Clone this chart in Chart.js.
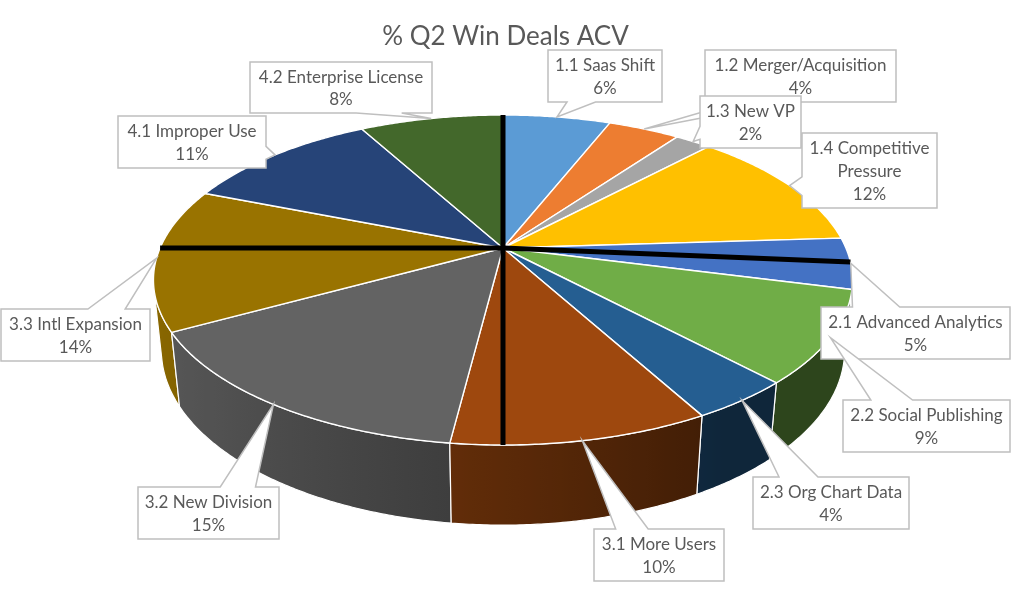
<!DOCTYPE html>
<html>
<head>
<meta charset="utf-8">
<script src="https://cdn.jsdelivr.net/npm/chart.js@4.4.1/dist/chart.umd.min.js"></script>
<style>
  html, body { margin: 0; padding: 0; background: #ffffff; }
  canvas { display: block; }
</style>
</head>
<body>
<canvas id="c" width="1011" height="591" style="width:1011px;height:591px"></canvas>
<script>
// ---------------- data ----------------
const titleText = '% Q2 Win Deals ACV';
const categories = [
  '1.1 Saas Shift', '1.2 Merger/Acquisition', '1.3 New VP', '1.4 Competitive Pressure',
  '2.1 Advanced Analytics', '2.2 Social Publishing', '2.3 Org Chart Data',
  '3.1 More Users', '3.2 New Division', '3.3 Intl Expansion',
  '4.1 Improper Use', '4.2 Enterprise License'
];
const shares = [6, 4, 2, 12, 5, 9, 4, 10, 15, 14, 11, 8];

// ---------------- styles / layout ----------------
const sliceColors = ['#5B9BD5', '#ED7D31', '#A5A5A5', '#FFC000', '#4472C4', '#70AD47',
                     '#255E91', '#9E480E', '#636363', '#997300', '#264478', '#43682B'];
// callout boxes: left, top, width, height
const calloutBoxes = [
  [548, 50, 114, 52], [705, 50, 191, 52], [700, 96, 101, 52], [802, 133, 135, 75],
  [821, 307, 189, 52], [843, 400, 167, 52], [753, 477, 156, 52], [594, 529, 130, 52],
  [138, 487, 141, 52], [1, 309, 149, 52], [118, 116, 148, 52], [250, 62, 182, 51]
];
const guideAngles = [0, 95, 180, 270]; // thick black guide rays (degrees, clockwise from back)
const FONT = 'Lato, "Open Sans", sans-serif';
const TEXT_COLOR = '#595959';

// perspective view of the pie disk (radius 1)
const VIEW = { cx: 503, cy: 248, fx: 1576, fy: 1608.6, dist: 4.596, elev: Math.asin(0.4537), depth: 0.227 };
const CE = Math.cos(VIEW.elev), SE = Math.sin(VIEW.elev);

function proj(x, y, z) {
  const dep = VIEW.dist - (y * CE + z * SE);
  const vc = -y * SE + z * CE;
  return [VIEW.cx + VIEW.fx * x / dep, VIEW.cy - VIEW.fy * vc / dep];
}
function rim(t, z, r) {
  r = (r === undefined) ? 1 : r;
  return proj(r * Math.sin(t), -r * Math.cos(t), z);
}
function hexToRgb(h) {
  const n = parseInt(h.slice(1), 16);
  return [(n >> 16) & 255, (n >> 8) & 255, n & 255];
}
function shade(hex, f) {
  const c = hexToRgb(hex).map(v => Math.max(0, Math.min(255, Math.round(v * f))));
  return 'rgb(' + c.join(',') + ')';
}
function wallFactor(t) {
  return Math.max(0.4, Math.min(0.95, 0.58 - 0.332 * Math.sin(t)));
}

function sliceAngles(chart) {
  const meta = chart.getDatasetMeta(0);
  return meta.data.map((arc, i) => {
    const p = arc.getProps(['startAngle', 'endAngle'], true);
    return { i, a0: p.startAngle + Math.PI / 2, a1: p.endAngle + Math.PI / 2 };
  });
}

const pie3d = {
  id: 'pie3d',
  beforeDatasetsDraw(chart) {
    const ctx = chart.ctx;
    const arcs = sliceAngles(chart);
    const tv = Math.acos(-1 / (VIEW.dist * CE));
    const v0 = tv, v1 = 2 * Math.PI - tv;
    ctx.save();
    ctx.lineJoin = 'round';
    // outer walls (front half)
    const walls = [];
    arcs.forEach(s => {
      const a = Math.max(s.a0, v0), b = Math.min(s.a1, v1);
      if (b - a > 1e-4) walls.push({ i: s.i, a, b });
    });
    walls.sort((p, q) => (-Math.cos((p.a + p.b) / 2)) - (-Math.cos((q.a + q.b) / 2)));
    walls.forEach(w => {
      const n = Math.max(2, Math.ceil((w.b - w.a) / (Math.PI / 360)));
      const top = [], bot = [], ts = [];
      for (let k = 0; k <= n; k++) {
        const t = w.a + (w.b - w.a) * k / n;
        ts.push(t); top.push(rim(t, 0)); bot.push(rim(t, -VIEW.depth));
      }
      ctx.beginPath();
      ctx.moveTo(top[0][0], top[0][1]);
      for (let k = 1; k <= n; k++) ctx.lineTo(top[k][0], top[k][1]);
      for (let k = n; k >= 0; k--) ctx.lineTo(bot[k][0], bot[k][1]);
      ctx.closePath();
      const xs = top.map(p => p[0]);
      const xL = Math.min(...xs), xR = Math.max(...xs);
      const base = sliceColors[w.i];
      if (xR - xL > 0.5) {
        const g = ctx.createLinearGradient(xL, 0, xR, 0);
        for (let k = 0; k <= n; k += Math.max(1, Math.floor(n / 24))) {
          const off = Math.max(0, Math.min(1, (top[k][0] - xL) / (xR - xL)));
          g.addColorStop(off, shade(base, wallFactor(ts[k])));
        }
        g.addColorStop(Math.max(0, Math.min(1, (top[n][0] - xL) / (xR - xL))), shade(base, wallFactor(ts[n])));
        ctx.fillStyle = g;
      } else {
        ctx.fillStyle = shade(base, wallFactor((w.a + w.b) / 2));
      }
      ctx.fill();
      ctx.strokeStyle = '#ffffff';
      ctx.lineWidth = 1.2;
      ctx.stroke();
    });
    // top faces
    const apex = proj(0, 0, 0);
    arcs.forEach(s => {
      const n = Math.max(2, Math.ceil((s.a1 - s.a0) / (Math.PI / 360)));
      ctx.beginPath();
      ctx.moveTo(apex[0], apex[1]);
      for (let k = 0; k <= n; k++) {
        const p = rim(s.a0 + (s.a1 - s.a0) * k / n, 0);
        ctx.lineTo(p[0], p[1]);
      }
      ctx.closePath();
      ctx.fillStyle = sliceColors[s.i];
      ctx.fill();
      ctx.strokeStyle = '#ffffff';
      ctx.lineWidth = 1.4;
      ctx.stroke();
    });
    ctx.restore();
    return false;
  }
};

function wrapText(ctx, text, maxW) {
  const words = text.split(' ');
  const lines = [];
  let cur = '';
  words.forEach(w => {
    const test = cur ? cur + ' ' + w : w;
    if (cur && ctx.measureText(test).width > maxW) { lines.push(cur); cur = w; }
    else cur = test;
  });
  if (cur) lines.push(cur);
  return lines;
}

const callouts = {
  id: 'callouts',
  afterDraw(chart) {
    const ctx = chart.ctx;
    const arcs = sliceAngles(chart);
    const total = shares.reduce((a, b) => a + b, 0);
    ctx.save();
    // guide rays
    const apex = proj(0, 0, 0);
    ctx.strokeStyle = '#000000';
    ctx.lineWidth = 5;
    ctx.lineCap = 'butt';
    guideAngles.forEach(d => {
      const p = rim(d * Math.PI / 180, 0);
      ctx.beginPath();
      ctx.moveTo(apex[0], apex[1]);
      ctx.lineTo(p[0], p[1]);
      ctx.stroke();
    });
    // callouts
    ctx.font = '17px ' + FONT;
    const lineH = 22.7;
    arcs.forEach(s => {
      const [l, t, w, h] = calloutBoxes[s.i];
      const r = l + w, b = t + h;
      const tip = rim((s.a0 + s.a1) / 2, 0);
      const hc = l + w / 2, vc = t + h / 2;
      const dxPos = tip[0] - hc, dyPos = tip[1] - vc;
      const dz = Math.abs(dyPos) - Math.abs(dxPos * h / w);
      const x1 = w * (dxPos > 0 ? 7 : 2) / 12, x2 = w * (dxPos > 0 ? 10 : 5) / 12;
      const y1 = h * (dyPos > 0 ? 7 : 2) / 12, y2 = h * (dyPos > 0 ? 10 : 5) / 12;
      const pts = [[l, t]];
      if (dz > 0 && dyPos < 0) pts.push([l + x1, t], tip, [l + x2, t]);
      pts.push([r, t]);
      if (dz <= 0 && dxPos > 0) pts.push([r, t + y1], tip, [r, t + y2]);
      pts.push([r, b]);
      if (dz > 0 && dyPos > 0) pts.push([l + x2, b], tip, [l + x1, b]);
      pts.push([l, b]);
      if (dz <= 0 && dxPos <= 0) pts.push([l, t + y2], tip, [l, t + y1]);
      ctx.beginPath();
      ctx.moveTo(pts[0][0], pts[0][1]);
      for (let k = 1; k < pts.length; k++) ctx.lineTo(pts[k][0], pts[k][1]);
      ctx.closePath();
      ctx.fillStyle = '#ffffff';
      ctx.fill();
      ctx.strokeStyle = '#BFBFBF';
      ctx.lineWidth = 1.5;
      ctx.lineJoin = 'miter';
      ctx.stroke();
      // text
      const lines = wrapText(ctx, categories[s.i], w - 2);
      lines.push(Math.round(shares[s.i] / total * 100) + '%');
      ctx.fillStyle = TEXT_COLOR;
      ctx.textAlign = 'center';
      ctx.textBaseline = 'middle';
      const y0 = vc - (lines.length - 1) * lineH / 2 + 1;
      lines.forEach((ln, k) => ctx.fillText(ln, hc, y0 + k * lineH));
    });
    ctx.restore();
  }
};

new Chart(document.getElementById('c'), {
  type: 'pie',
  data: {
    labels: categories,
    datasets: [{ data: shares, backgroundColor: sliceColors, borderWidth: 0 }]
  },
  options: {
    responsive: false,
    animation: false,
    events: [],
    plugins: {
      legend: { display: false },
      tooltip: { enabled: false },
      title: {
        display: true,
        text: titleText,
        color: TEXT_COLOR,
        font: { family: FONT, size: 26, weight: 'normal' },
        padding: { top: 21, bottom: 8 }
      }
    }
  },
  plugins: [pie3d, callouts]
});
</script>
</body>
</html>
